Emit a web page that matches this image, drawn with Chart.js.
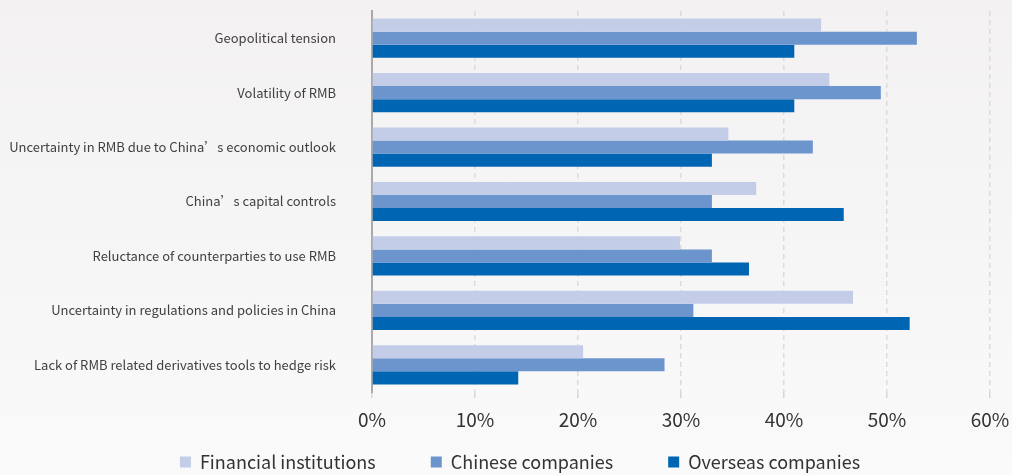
<!DOCTYPE html>
<html lang="en">
<head>
  <meta charset="UTF-8" />
  <title>RMB usage concerns</title>
  <script src="https://cdn.jsdelivr.net/npm/chart.js"></script>
  <style>
    html,body{margin:0;padding:0}
    body{width:1012px;height:475px;background:linear-gradient(#f3f1f2,#fafafa);overflow:hidden}
    canvas{display:block}
  </style>
</head>
<body>
  <canvas id="barChart" width="1012" height="475"></canvas>

  <script>
  const categories = [
    'Geopolitical tension',
    'Volatility of RMB',
    'Uncertainty in RMB due to China\u2019s economic outlook',
    'China\u2019s capital controls',
    'Reluctance of counterparties to use RMB',
    'Uncertainty in regulations and policies in China',
    'Lack of RMB related derivatives tools to hedge risk'
  ];
  const financialInst = [43.6, 44.4, 34.6, 37.3, 29.9, 46.7, 20.5];
  const chineseCos    = [52.9, 49.4, 42.8, 33.0, 33.0, 31.2, 28.4];
  const overseasCos   = [41.0, 41.0, 33.0, 45.8, 36.6, 52.2, 14.2];
  const xTicks = [0, 10, 20, 30, 40, 50, 60];

  const font = '"Noto Sans CJK SC","Noto Sans",sans-serif';

  // wide legend gaps but legend sits close under the axis labels
  const legendNudge = {
    id: 'legendNudge',
    afterLayout(chart) {
      const lg = chart.legend;
      lg.top -= 37;
      lg.left += 25; lg.right += 25;
    }
  };

  const ctx = document.getElementById('barChart').getContext('2d');
  new Chart(ctx, {
    type: 'bar',
    data: {
      labels: categories,
      datasets: [
        {label:'Financial institutions', data:financialInst, backgroundColor:'#c4cde8'},
        {label:'Chinese companies', data:chineseCos, backgroundColor:'#6c95ce'},
        {label:'Overseas companies', data:overseasCos, backgroundColor:'#0066b3'}
      ]
    },
    options: {
      indexAxis: 'y',
      responsive: false,
      animation: false,
      layout: {padding: {top: 11, right: 22, left: 0, bottom: 0}},
      datasets: {bar: {categoryPercentage: 0.72, barPercentage: 1.0}},
      plugins: {
        legend: {
          position: 'bottom',
          maxHeight: 40,
          labels: {
            color: '#333',
            font: {family: font, size: 18},
            boxWidth: 11, boxHeight: 11,
            padding: 55
          }
        },
        tooltip: {enabled: false}
      },
      scales: {
        x: {
          min: 0, max: 60,
          afterBuildTicks: s => { s.ticks = xTicks.map(v => ({value: v})); },
          ticks: {
            color: '#333',
            font: {family: font, size: 19},
            padding: 10,
            callback: v => v + '%'
          },
          grid: {color: '#dcdcdc', lineWidth: 1.5, tickLength: 6, tickColor: '#d6d6d6'},
          border: {display: false, dash: [5, 4]},
          afterFit: s => { s.height = 43; s.paddingRight = 0; s.paddingLeft = 0; }
        },
        y: {
          ticks: {
            color: '#404040',
            font: {family: font, size: 13},
            padding: 0
          },
          grid: {display: false, drawTicks: true, tickLength: 36},
          border: {display: true, color: '#aaaaaa', width: 2},
          afterFit: s => { s.width = 372; }
        }
      }
    },
    plugins: [legendNudge]
  });
  </script>
</body>
</html>
